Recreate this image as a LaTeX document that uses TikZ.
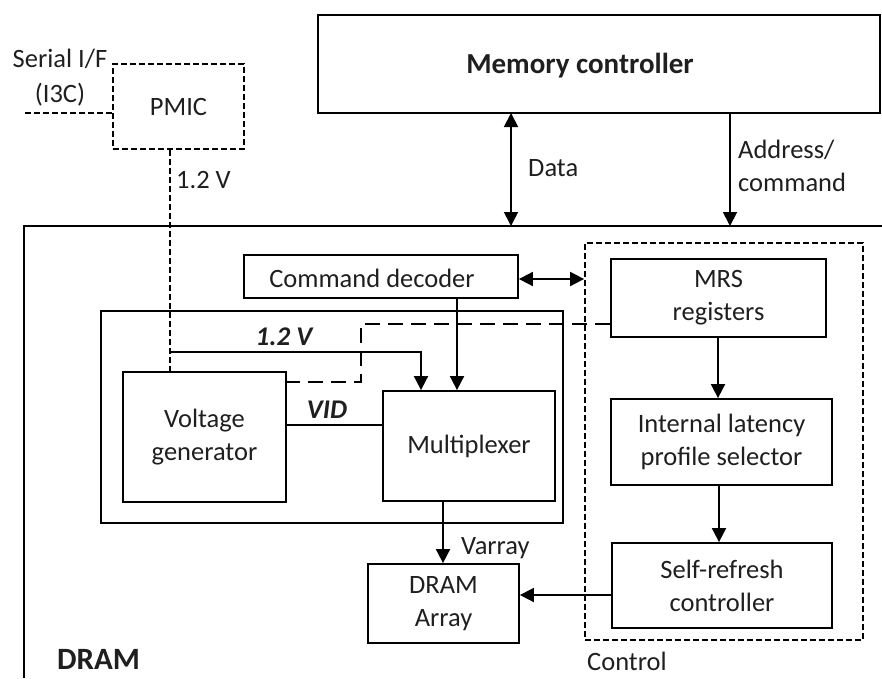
\documentclass[tikz,border=0pt]{standalone}
\usepackage{fontspec}
\setmainfont{Carlito}
\usetikzlibrary{arrows.meta}
\begin{document}
\begin{tikzpicture}[x=1pt,y=-1pt,
  every node/.style={font=\fontsize{26.5}{33}\selectfont, text=black!88},
  ln/.style={line width=1.8pt},
  box/.style={draw, line width=1.8pt, inner sep=0pt, align=center},
  shortdash/.style={line width=1.8pt, dash pattern=on 6pt off 3pt},
  longdash/.style={line width=1.8pt, dash pattern=on 15pt off 8pt},
  tip/.style={-{Triangle[length=14pt,width=14pt]}},
  dtip/.style={{Triangle[length=14pt,width=14pt]}-{Triangle[length=14pt,width=14pt]}},
  lbl/.style={inner sep=0pt, anchor=west},
  bi/.style={font=\fontsize{27}{33}\selectfont\bfseries\itshape}
]
\useasboundingbox (0,0) rectangle (882,678);

% outer DRAM boundary
\draw[ln] (882,226) -- (24,226) -- (24,678);
\node[lbl, font=\fontsize{31}{36}\selectfont\bfseries] (dramlbl) at (57,659) {DRAM};

% memory controller
\node[box, minimum width=562pt, minimum height=98pt] (mc) at (599,64) {};
\node[inner sep=0pt, font=\fontsize{29}{34}\selectfont\bfseries] (mct) at (580,66) {Memory controller};

% PMIC
\node[box, shortdash, minimum width=131pt, minimum height=85pt] (pmic) at (178.5,106.5) {PMIC};
\node[inner sep=0pt, align=center, font=\fontsize{26.5}{35}\selectfont] (serial) at (60,78) {Serial I/F\\(I3C)};
\coordinate (serialend) at (25,113);
\draw[shortdash] (serialend) -- (pmic.west |- serialend);

% control dashed box
\node[draw, shortdash, minimum width=278pt, minimum height=397pt, inner sep=0pt] (ctrl) at (724,441.5) {};
\node[lbl] (ctrllbl) at (587,661) {Control};

% command decoder
\node[box, minimum width=274pt, minimum height=43pt,
      label={[xshift=-9pt, yshift=-2pt, inner sep=0pt]center:Command decoder}] (cmd) at (381,276.5) {};

% power block
\node[draw, line width=1.8pt, minimum width=462pt, minimum height=212pt, inner sep=0pt] (pwr) at (332,417) {};

% voltage generator
\node[box, minimum width=163pt, minimum height=130pt] (vg) at (204.5,437) {Voltage\\generator};
% multiplexer
\node[box, minimum width=172pt, minimum height=110pt] (mux) at (469,446) {Multiplexer};
% MRS
\node[box, minimum width=215pt, minimum height=78pt] (mrs) at (718.5,298) {MRS\\registers};
% internal latency
\node[box, minimum width=221pt, minimum height=86pt] (ilp) at (721.5,442) {Internal latency\\profile selector};
% self-refresh
\node[box, minimum width=220pt, minimum height=85pt] (src) at (722,585.5) {Self-refresh\\controller};
% DRAM array
\node[box, minimum width=151pt, minimum height=79pt] (da) at (443.5,603.5) {DRAM\\Array};

% memory controller links
\coordinate (dataTop) at (511,113);
\coordinate (dataBot) at (511,226);
\draw[ln, dtip] (dataTop) -- (dataBot);
\node[lbl] (datalbl) at (528,168) {Data};
\coordinate (addrTop) at (730,113);
\coordinate (addrBot) at (730,226);
\draw[ln, tip] (addrTop) -- (addrBot);
\node[lbl, align=left] (addrlbl) at (738,166) {Address/\\command};

% command decoder links
\draw[ln, dtip] (cmd.east |- 0,279) -- (ctrl.west |- 0,279);
\draw[ln, tip] (cmd.south -| 457,0) -- (mux.north -| 457,0);

% PMIC supply
\coordinate (branch) at (170,352);
\draw[shortdash] (pmic.south -| branch) -- (vg.north -| branch);
\node[lbl] (v12a) at (176,180) {1.2 V};
\draw[ln, tip] (branch) -- (421,352) -- (mux.north -| 421,0);
\node[inner sep=0pt, bi] (v12b) at (284,337) {1.2 V};

% MRS dashed control to voltage generator
\coordinate (bendA) at (361,324);
\coordinate (bendB) at (361,382);
\draw[longdash] (mrs.west |- bendA) -- (bendA) -- (bendB) -- (vg.east |- bendB);

% VID
\draw[ln] (vg.east |- 0,425) -- (mux.west |- 0,425);
\node[inner sep=0pt, bi] (vid) at (327,410) {VID};

% Varray
\draw[ln, tip] (mux.south -| 443,0) -- (da.north -| 443,0);
\node[lbl] (varray) at (461,548) {Varray};

% control chain
\draw[ln, tip] (mrs.south -| 718,0) -- (ilp.north -| 718,0);
\draw[ln, tip] (ilp.south -| 719,0) -- (src.north -| 719,0);
\draw[ln, tip] (src.west |- 0,595) -- (da.east |- 0,595);
\end{tikzpicture}
\end{document}
